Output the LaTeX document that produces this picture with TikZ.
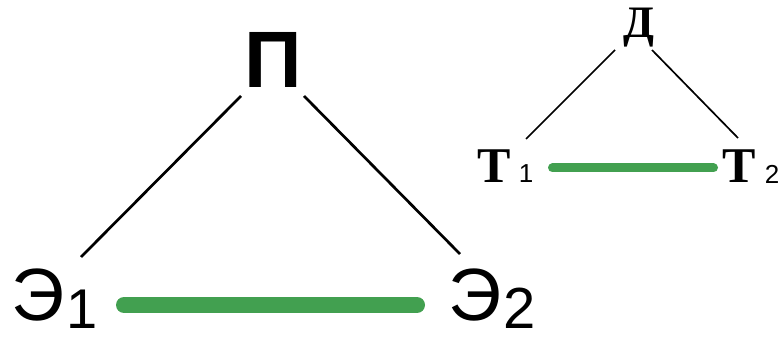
\documentclass[tikz,border=0pt]{standalone}
\usepackage{fontspec}
\setmainfont{Liberation Serif}
\newfontfamily\arialf{Liberation Sans}
\usetikzlibrary{calc}
\definecolor{linkgreen}{RGB}{66,160,80}
\tikzset{
  lbl/.style={inner sep=0pt, outer sep=0pt},
  bigline/.style={line width=2.7pt, black},
  smallline/.style={line width=1.7pt, black},
  greenbig/.style={line width=16pt, linkgreen, line cap=round},
  greensmall/.style={line width=9pt, linkgreen, line cap=round}
}
\begin{document}
\begin{tikzpicture}[x=1pt,y=-1pt]
\useasboundingbox (0,0) rectangle (782,339);
% left triangle
\node[lbl] (P) at (273,60) {\arialf\bfseries\fontsize{80}{80}\selectfont П};
\node[lbl] (E1) at (38,295) {\arialf\fontsize{74}{74}\selectfont Э};
\node[lbl] (E1s) at (82,309) {\arialf\fontsize{56}{56}\selectfont 1};
\node[lbl] (E2) at (475,295) {\arialf\fontsize{74}{74}\selectfont Э};
\node[lbl] (E2s) at (520,308) {\arialf\fontsize{58}{58}\selectfont 2};
\draw[bigline] ($(P)+(-32,36)$) -- ($(E1)+(43,-38)$);
\draw[bigline] ($(P)+(31,36)$) -- ($(E2)+(-15,-41)$);
\draw[greenbig] ($(E1s)+(42,-4)$) -- ($(E2)+(-58,10)$);
% right triangle
\node[lbl] (D) at (639,28) {\bfseries\fontsize{45}{45}\selectfont Д};
\node[lbl] (T1) at (494,166) {\bfseries\fontsize{50}{50}\selectfont Т};
\node[lbl] (T1s) at (526,174) {\arialf\fontsize{26}{26}\selectfont 1};
\node[lbl] (T2) at (739,166) {\bfseries\fontsize{50}{50}\selectfont Т};
\node[lbl] (T2s) at (772,174) {\arialf\fontsize{26}{26}\selectfont 2};
\draw[smallline] ($(D)+(-24,22)$) -- ($(T1)+(32,-27)$);
\draw[smallline] ($(D)+(13,22)$) -- ($(T2)+(-1,-28)$);
\draw[greensmall] ($(T1s)+(26.5,-6)$) -- ($(T2)+(-25.5,2)$);
\end{tikzpicture}
\end{document}
